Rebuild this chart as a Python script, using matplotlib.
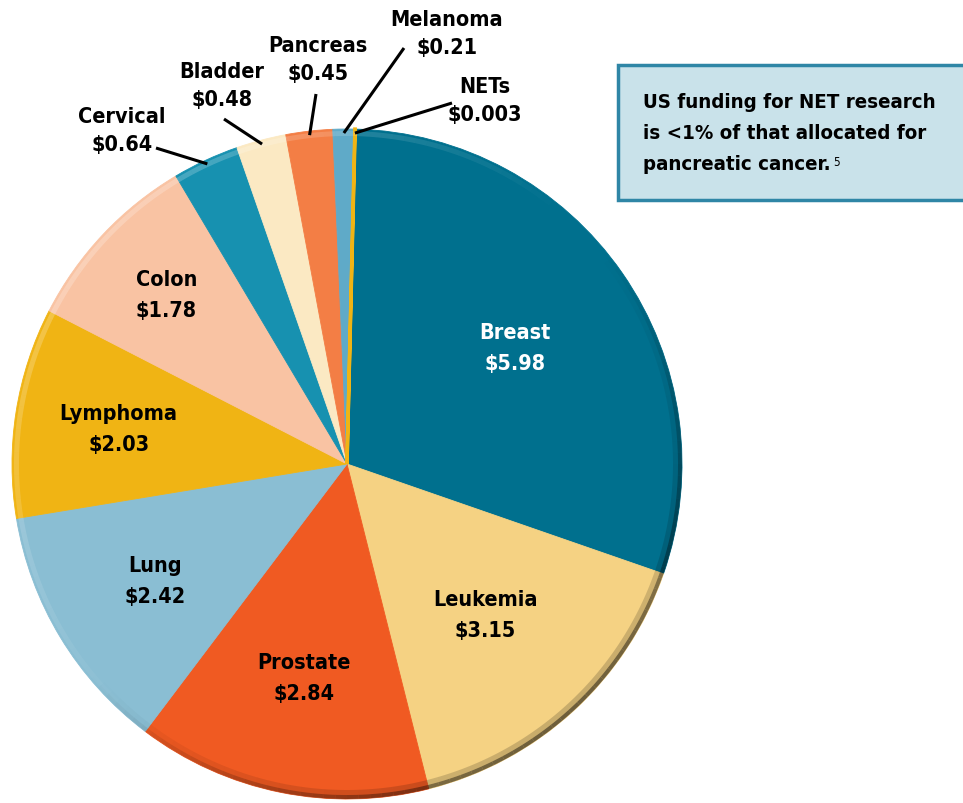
import numpy as np
import matplotlib
matplotlib.use("Agg")
import matplotlib.pyplot as plt
from matplotlib.patches import Wedge, Rectangle

plt.rcParams['font.family'] = ['Liberation Sans Narrow', 'DejaVu Sans']
plt.rcParams['font.stretch'] = 'condensed'
plt.rcParams['font.weight'] = 'bold'

# data (US research funding, $ billions)
categories = ['Breast', 'Leukemia', 'Prostate', 'Lung', 'Lymphoma', 'Colon',
              'Cervical', 'Bladder', 'Pancreas', 'Melanoma', 'NETs']
funding = [5.98, 3.15, 2.84, 2.42, 2.03, 1.78, 0.64, 0.48, 0.45, 0.21, 0.003]
colors = ['#00708E', '#F5D283', '#F05A22', '#8ABED3', '#F0B414', '#F9C3A3',
          '#1791B0', '#FBE9C3', '#F37E45', '#5FAAC8', '#F0B414']
note_lines = ['US funding for NET research', 'is <1% of that allocated for',
              'pancreatic cancer.']

W, H = 963, 804
CX, CY, R = 347, H - 465, 335

# inside labels: radial fraction; outside labels: text centre + line end (pixels, y down)
inside_frac = {'Breast': 0.61, 'Leukemia': 0.61, 'Prostate': 0.65, 'Lung': 0.67,
               'Lymphoma': 0.69, 'Colon': 0.74}
outside = {'Cervical': ((122, 131), (156, 149)),
           'Bladder': ((222, 86), (224, 120)),
           'Pancreas': ((318, 60), (316, 95)),
           'Melanoma': ((447, 34), (404, 49)),
           'NETs': ((485, 101), (452, 104))}

fig = plt.figure(figsize=(W / 100, H / 100), dpi=100)
ax = fig.add_axes([0, 0, 1, 1])

wedges, _ = ax.pie(funding, colors=colors, startangle=88.6, counterclock=False,
                   center=(CX, CY), radius=R, frame=True,
                   wedgeprops=dict(linewidth=0.6))
for w, c in zip(wedges, colors):
    w.set_edgecolor(c)
wedges[-1].set_linewidth(2.5)

# rim shading: dark lower-right, light upper-left
step = 2
for a in np.arange(0, 360, step):
    m = np.radians(a + step / 2)
    shade = max(0.0, np.cos(m - np.radians(-50)))
    light = max(0.0, np.cos(m - np.radians(140)))
    if shade > 0:
        ax.add_patch(Wedge((CX, CY), R, a, a + step, width=4,
                           color='black', alpha=0.55 * shade ** 1.2, lw=0))
        ax.add_patch(Wedge((CX, CY), R - 4, a, a + step, width=5,
                           color='black', alpha=0.18 * shade ** 1.2, lw=0))
    if light > 0:
        ax.add_patch(Wedge((CX, CY), R - 2, a, a + step, width=5,
                           color='white', alpha=0.22 * light, lw=0))

fs = 15.5
for w, name, val in zip(wedges, categories, funding):
    text = f"{name}\n${val:g}"
    if name in inside_frac:
        mid = np.radians((w.theta1 + w.theta2) / 2)
        f = inside_frac[name]
        ax.text(CX + R * f * np.cos(mid), CY + R * f * np.sin(mid), text,
                ha='center', va='center', fontsize=fs, linespacing=1.7,
                color='white' if name == 'Breast' else 'black')
    else:
        (tx, ty), (lx, ly) = outside[name]
        mid = np.radians((w.theta1 + w.theta2) / 2)
        sx, sy = CX + (R - 4) * np.cos(mid), CY + (R - 4) * np.sin(mid)
        ax.plot([sx, lx], [sy, H - ly], color='black', lw=2.2, solid_capstyle='butt')
        ax.text(tx, H - ty, text, ha='center', va='center', fontsize=fs,
                linespacing=1.55, color='black')

# note box
ax.add_patch(Rectangle((618, H - 201), 400, 135, facecolor='#C9E2EA',
                       edgecolor='#2F86A6', lw=2.5, clip_on=False))
last = None
for i, line in enumerate(note_lines):
    last = ax.text(643, H - (102 + 31.5 * i), line, ha='left', va='center',
                   fontsize=14.7, color='black')
ax.annotate('5', xy=(1, 1), xycoords=last, xytext=(1.5, 0),
            textcoords='offset points', ha='left', va='top', fontsize=8.5,
            fontweight='normal')

ax.set_xlim(0, W)
ax.set_ylim(0, H)
ax.set_aspect('equal')
ax.axis('off')

fig.savefig('out.png', dpi=100)
